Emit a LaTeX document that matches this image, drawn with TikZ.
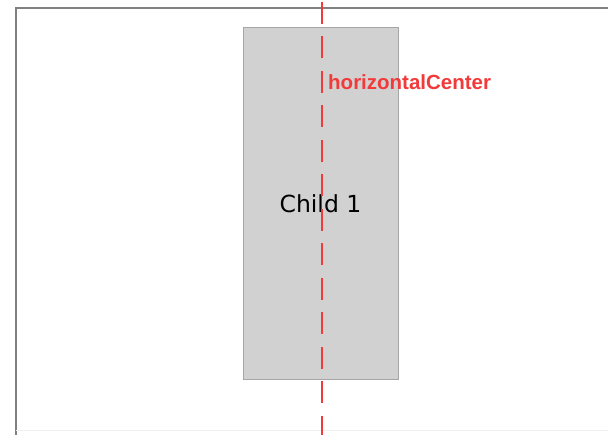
\documentclass[tikz,border=0pt]{standalone}
\usepackage{fontspec}
\setmainfont{DejaVu Sans}
\newfontfamily\lblfont{Liberation Sans}
\usetikzlibrary{positioning}
\definecolor{guidered}{HTML}{F23A3A}
\definecolor{childgray}{HTML}{D1D1D1}
\definecolor{edgegray}{HTML}{A6A6A6}

\begin{document}
\begin{tikzpicture}[x=1pt,y=-1pt,
  child/.style={draw=edgegray,fill=childgray,line width=1pt,minimum width=155pt,minimum height=352pt,inner sep=0pt,
    font=\fontsize{23.5}{28}\selectfont},
  guide/.style={guidered,line width=1.8pt,dash pattern=on 22pt off 12.5pt},
  lbl/.style={anchor=base west,inner sep=0pt,text=guidered,font=\lblfont\bfseries\fontsize{20.5}{24}\selectfont}]
  \useasboundingbox (0,0) rectangle (608,435);
  % container edges
  \draw[black!50,line width=2pt] (15.5,435) -- (15.5,8.5) -- (608,8.5);
  \draw[black!6] (15.5,430) -- (608,430);
  % the child
  \node[child] (child1) at (320.5,204) {Child 1};
  % centre guide
  \coordinate (gtop) at (322,2);
  \coordinate (gbot) at (322,435);
  \draw[guide] (gtop) -- (gbot);
  \node[lbl] (hclbl) at (328,90) {horizontalCenter};
\end{tikzpicture}
\end{document}
